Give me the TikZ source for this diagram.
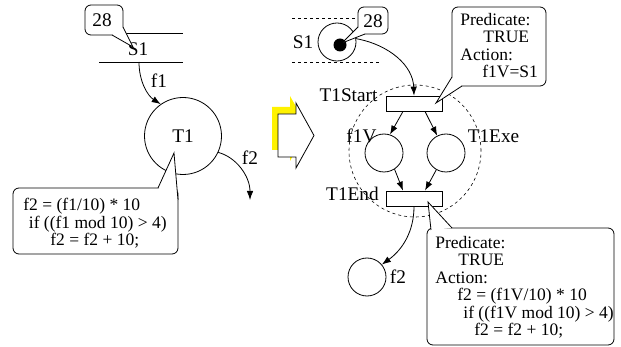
\documentclass[tikz,border=0pt]{standalone}
\usepackage{fontspec}
\setmainfont{Liberation Serif}
\usetikzlibrary{arrows.meta}
\begin{document}
\begin{tikzpicture}[x=1pt,y=-1pt, line width=0.8pt,
  lbl/.style={font=\fontsize{19.3}{20}\selectfont, inner sep=0pt},
  code/.style={font=\fontsize{17.5}{17.4}\selectfont, inner sep=0pt, align=left},
  place/.style={circle, draw, minimum size=38pt, inner sep=0pt},
  trans/.style={rectangle, draw, fill=white, minimum width=56pt, minimum height=15pt, inner sep=0pt},
  arr/.style={-{Latex[length=9pt,width=6.5pt]}},
  dsh/.style={dash pattern=on 3pt off 3pt, line width=0.6pt},
  bubble/.style={draw, fill=white, rounded corners=6pt},
  ptr/.style={draw, fill=white},
]
\useasboundingbox (0,0) rectangle (621,347);

% ---------------- left net ----------------
\draw (99,33) -- (183,33);
\draw (99,62) -- (183,62);
\node[lbl] (s1) at (138,49) {S1};
\coordinate (s1out) at (139,62);
\node[place, minimum size=77pt, lbl] (t1) at (183,136) {T1};
\draw[arr] (s1out) .. controls (139,82) and (148,96) .. (t1.125);
\node[lbl] (f1l) at (159,81) {f1};
\coordinate (f2end) at (250,200);
\draw[arr] (t1.-25) .. controls (236,157) and (250,176) .. (f2end);
\node[lbl] (f2l) at (250,158) {f2};

% callout 28 (left)
\draw[bubble] (85,5) rectangle (123,35);
\draw[ptr] (112,35) -- (133,47) -- (123,27);
\node[lbl] (c28a) at (102,20) {28};

% callout code (left)
\draw[bubble] (13,188) rectangle (178,254);
\draw[ptr] (158,188) -- (174,153) -- (178,200);
\node[code, anchor=base west] (codel) at (23,245.8)
  {f2 = (f1/10) * 10\\\hspace*{5.5pt}if ((f1 mod 10) > 4)\\\hspace*{27pt}f2 = f2 + 10;};

% ---------------- big arrow ----------------
\fill[yellow] (272,107) -- (290,107) -- (290,96) -- (308,128) -- (290,161) -- (290,150) -- (272,150) -- cycle;
\draw[fill=white] (278,114) -- (296,114) -- (296,103) -- (314,135.5) -- (296,168) -- (296,157) -- (278,157) -- cycle;

% ---------------- right net ----------------
\draw[dsh] (292,18) -- (358,18);
\draw[dsh] (292,62) -- (380,62);
\draw[dsh] (415,151) circle[radius=66pt];
\node[place] (s1r) at (337,42) {};
\node[circle, fill=black, minimum size=13pt, inner sep=0pt] (tok) at (340,45) {};
\node[lbl] (s1rl) at (303,42) {S1};

% callout 28 (right)
\draw[bubble] (358,7) rectangle (388,34);
\draw[ptr] (358,27) -- (342,43) -- (365,34);
\node[lbl] (c28b) at (373,21) {28};

\node[trans] (ts) at (414,103.5) {};
\node[lbl] (tsl) at (348.5,95) {T1Start};
\node[trans] (te) at (414,198.5) {};
\node[lbl] (tel) at (352.5,194) {T1End};
\node[place] (f1v) at (384,153) {};
\node[lbl] (f1vl) at (361.5,135.5) {f1V};
\node[place] (exe) at (446,153) {};
\node[lbl] (exel) at (493.5,136) {T1Exe};
\node[place] (f2) at (367,277) {};
\node[lbl] (f2rl) at (398,277) {f2};

\draw[arr] (s1r.10) .. controls (390,45) and (413,66) .. (ts.north);
\draw[arr] ([xshift=-11pt]ts.south) -- (f1v.72);
\draw[arr] ([xshift=11pt]ts.south) -- (exe.117);
\draw[arr] (f1v.-57) -- ([xshift=-11pt]te.north);
\draw[arr] (exe.-120) -- ([xshift=11pt]te.north);
\draw[arr] (te.south) .. controls (414,232) and (402,250) .. (f2.40);

% callout predicate top
\draw[bubble] (452,7) rectangle (546,86);
\draw[ptr] (452,77) -- (436,103) -- (462,86);
\node[code, anchor=base west] (predtop) at (460,77.7)
  {Predicate:\\\hspace*{23pt}TRUE\\Action:\\\hspace*{22pt}f1V=S1};

% callout predicate bottom
\draw[bubble] (427,228) rectangle (614,345);
\draw[ptr] (452,228) -- (428,202) -- (431,230);
\node[code, anchor=base west] (predbot) at (435,335.5)
  {Predicate:\\\hspace*{23pt}TRUE\\Action:\\\hspace*{22pt}f2 = (f1V/10) * 10\\\hspace*{28pt}if ((f1V mod 10) > 4)\\\hspace*{39pt}f2 = f2 + 10;};
\end{tikzpicture}
\end{document}
